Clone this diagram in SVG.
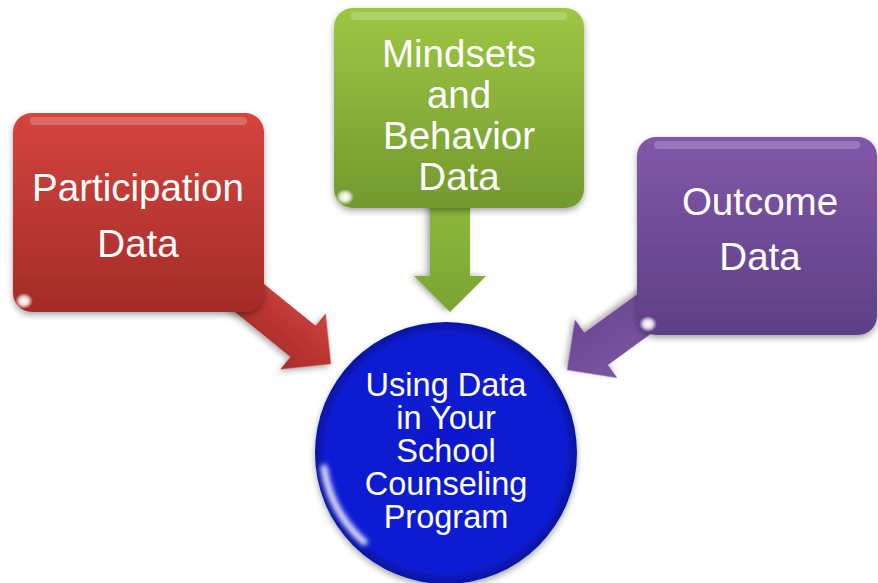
<svg xmlns="http://www.w3.org/2000/svg" width="878" height="583" viewBox="0 0 878 583">
<defs>
<style>
.lbl{font-family:"Liberation Sans",Arial,sans-serif;fill:#fff;text-anchor:middle;}
.box{font-size:38.5px;}
.ctr{font-size:32.5px;}
.hl{fill:#fff;opacity:0.2;}
</style>
<filter id="sh" x="-20%" y="-20%" width="140%" height="150%">
<feDropShadow dx="0" dy="3" stdDeviation="3" flood-color="#000" flood-opacity="0.35"/>
</filter>
<filter id="blur" x="-50%" y="-50%" width="200%" height="200%">
<feGaussianBlur stdDeviation="2.5"/>
</filter>
<linearGradient id="gRed" x1="0" y1="0" x2="0" y2="1">
<stop offset="0" stop-color="#d4453f"/><stop offset="1" stop-color="#a42b28"/>
</linearGradient>
<linearGradient id="gGreen" x1="0" y1="0" x2="0" y2="1">
<stop offset="0" stop-color="#9ec745"/><stop offset="1" stop-color="#72992e"/>
</linearGradient>
<linearGradient id="gPurple" x1="0" y1="0" x2="0" y2="1">
<stop offset="0" stop-color="#8158a9"/><stop offset="1" stop-color="#5e3f85"/>
</linearGradient>
<linearGradient id="aRed" x1="0" y1="0" x2="0" y2="1">
<stop offset="0" stop-color="#c94440"/><stop offset="0.5" stop-color="#bb3532"/><stop offset="1" stop-color="#a52c2a"/>
</linearGradient>
<linearGradient id="aGreen" x1="0" y1="0" x2="1" y2="0">
<stop offset="0" stop-color="#95c03f"/><stop offset="1" stop-color="#7aa433"/>
</linearGradient>
<linearGradient id="aPurple" x1="0" y1="0" x2="0" y2="1">
<stop offset="0" stop-color="#7a55a2"/><stop offset="1" stop-color="#6a4892"/>
</linearGradient>
<radialGradient id="gBlue" cx="0.5" cy="0.5" r="0.5">
<stop offset="0" stop-color="#0818cc"/><stop offset="0.9" stop-color="#0a1dd4"/><stop offset="1" stop-color="#0614a0"/>
</radialGradient>
<radialGradient id="glare" cx="0.5" cy="0.5" r="0.5">
<stop offset="0" stop-color="#fff" stop-opacity="1"/><stop offset="0.5" stop-color="#fff" stop-opacity="0.8"/><stop offset="1" stop-color="#fff" stop-opacity="0"/>
</radialGradient>
<path id="arrow" d="M-150,-20 L-36,-20 L-36,-36 L0,0 L-36,36 L-36,20 L-150,20 Z"/>
</defs>
<rect width="878" height="583" fill="#fff"/>

<g id="connectors">
<use href="#arrow" transform="translate(331,364) rotate(39)" fill="url(#aRed)" filter="url(#sh)"/>
<use href="#arrow" transform="translate(450,312) rotate(90)" fill="url(#aGreen)" filter="url(#sh)"/>
<use href="#arrow" transform="translate(567,370) rotate(144)" fill="url(#aPurple)" filter="url(#sh)"/>
</g>

<g id="node-participation">
<rect x="13" y="113" width="251" height="199" rx="19" fill="url(#gRed)" filter="url(#sh)"/>
<rect x="30" y="117" width="217" height="8" rx="4" class="hl"/>
<ellipse cx="24" cy="301" rx="9" ry="8" fill="url(#glare)"/>
<text class="lbl box" x="138" y="201">Participation</text>
<text class="lbl box" x="138" y="257">Data</text>
</g>

<g id="node-mindsets">
<rect x="334" y="8" width="250" height="200" rx="19" fill="url(#gGreen)" filter="url(#sh)"/>
<rect x="351" y="12" width="216" height="8" rx="4" class="hl"/>
<ellipse cx="345" cy="197" rx="9" ry="8" fill="url(#glare)"/>
<text class="lbl box" x="459" y="67">Mindsets</text>
<text class="lbl box" x="459" y="108">and</text>
<text class="lbl box" x="459" y="149">Behavior</text>
<text class="lbl box" x="459" y="190">Data</text>
</g>

<g id="node-outcome">
<rect x="637" y="137" width="240" height="198" rx="19" fill="url(#gPurple)" filter="url(#sh)"/>
<rect x="654" y="141" width="206" height="8" rx="4" class="hl"/>
<ellipse cx="648" cy="324" rx="9" ry="8" fill="url(#glare)"/>
<text class="lbl box" x="760" y="215">Outcome</text>
<text class="lbl box" x="760" y="270">Data</text>
</g>

<g id="node-center">
<circle cx="446" cy="453" r="131" fill="url(#gBlue)" filter="url(#sh)"/>
<path d="M362,349 A120,120 0 0 1 530,349" fill="none" stroke="#fff" stroke-opacity="0.3" stroke-width="3" filter="url(#blur)"/>
<path d="M324,468 A124,124 0 0 0 364,542" fill="none" stroke="#fff" stroke-opacity="0.85" stroke-width="7" stroke-linecap="round" filter="url(#blur)"/>
<text class="lbl ctr" x="446" y="396">Using Data</text>
<text class="lbl ctr" x="446" y="429">in Your</text>
<text class="lbl ctr" x="446" y="462">School</text>
<text class="lbl ctr" x="446" y="495">Counseling</text>
<text class="lbl ctr" x="446" y="528">Program</text>
</g>
</svg>
